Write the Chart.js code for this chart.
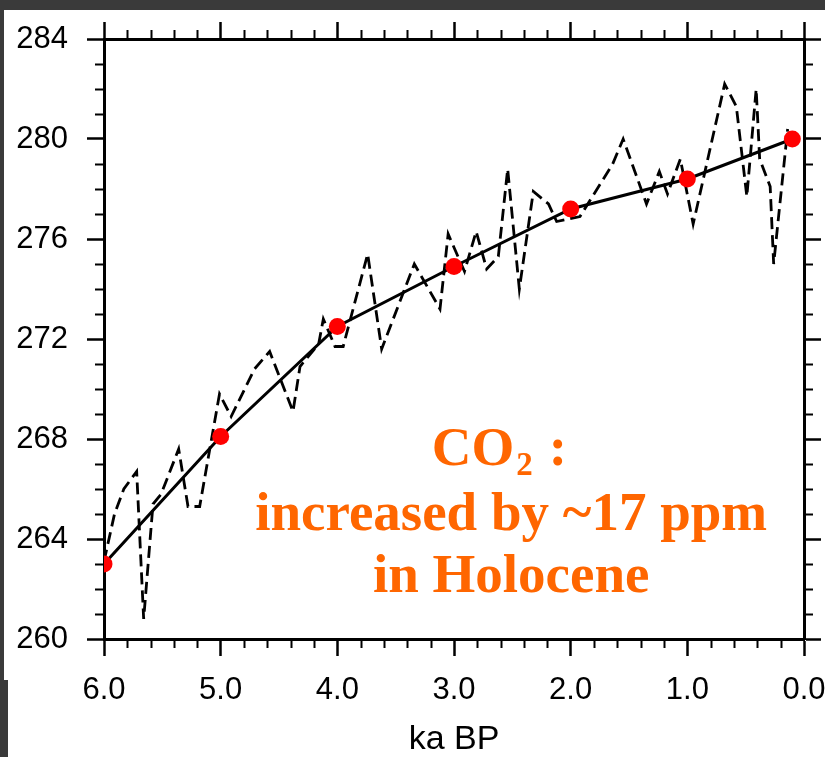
<!DOCTYPE html>
<html><head><meta charset="utf-8">
<style>html,body{margin:0;padding:0;background:#fff;overflow:hidden}canvas{display:block}</style>
<script src="https://cdn.jsdelivr.net/npm/chart.js@4.4.1/dist/chart.umd.min.js"></script>
</head><body>
<canvas id="c" width="825" height="757"></canvas>
<script>
// ---- data ----
const dashedAge = [6.00, 5.91, 5.83, 5.72, 5.66, 5.58, 5.51, 5.36, 5.28, 5.18, 5.01, 4.91, 4.71, 4.58, 4.38, 4.32, 4.16, 4.12, 4.02, 3.95, 3.74, 3.62, 3.34, 3.12, 3.05, 2.91, 2.81, 2.72, 2.62, 2.54, 2.44, 2.32, 2.19, 2.12, 1.92, 1.64, 1.55, 1.35, 1.24, 1.17, 1.06, 0.95, 0.68, 0.58, 0.49, 0.41, 0.38, 0.29, 0.26, 0.14];
const dashedCO2 = [263.1, 265.0, 266.0, 266.7, 260.8, 265.4, 265.8, 267.6, 265.3, 265.3, 269.8, 268.9, 270.8, 271.5, 269.1, 270.9, 271.8, 272.8, 271.7, 271.7, 275.4, 271.6, 275.0, 273.2, 276.2, 274.7, 276.3, 274.8, 275.3, 278.8, 274.0, 277.9, 277.4, 276.7, 276.9, 279.0, 280.0, 277.4, 278.7, 277.8, 279.2, 276.6, 282.2, 281.3, 277.7, 282.0, 279.2, 278.1, 275.0, 280.4];
const fitAge = [6.0, 5.0, 4.0, 3.0, 2.0, 1.0, 0.1];
const fitCO2 = [263.0, 268.1, 272.5, 274.9, 277.2, 278.4, 280.0];
const xMajorTicks = [6, 5, 4, 3, 2, 1, 0];
const xTickLabels = ['6.0', '5.0', '4.0', '3.0', '2.0', '1.0', '0.0'];
const yMajorTicks = [260, 264, 268, 272, 276, 280, 284];
const yTickLabels = ['260', '264', '268', '272', '276', '280', '284'];
const xTitle = 'ka BP';
const noteLines = ['CO', '2', ':', 'increased by ~17 ppm', 'in Holocene'];

// ---- styling / layout ----
const ORANGE = '#ff6600';
const LABEL_FONT = {family: '"Liberation Sans", Arial, sans-serif', size: 31};
const TICK_COLOR = '#000';

const dashed = dashedAge.map((a, i) => ({x: a, y: dashedCO2[i]}));
const fit = fitAge.map((a, i) => ({x: a, y: fitCO2[i]}));

function setTicks(vals) { return s => { s.ticks = vals.map(v => ({value: v})); }; }

const minorTicks = {
  id: 'minorTicks',
  beforeDraw(chart) {
    const ctx = chart.ctx;
    ctx.save();
    ctx.fillStyle = '#fff';
    ctx.fillRect(0, 0, chart.width, chart.height);
    ctx.fillStyle = '#3a3a3a';
    ctx.fillRect(0, 0, chart.width, 10);
    ctx.fillRect(0, 0, 4, 680);
    ctx.fillRect(0, 680, 8, chart.height - 680);
    ctx.restore();
  },
  afterDraw(chart) {
    const ctx = chart.ctx;
    const {x, x2, y, y2} = chart.scales;
    ctx.save();
    ctx.strokeStyle = TICK_COLOR;
    ctx.lineWidth = 2;
    const L = 9;
    for (let k = 0; k <= 30; k++) {
      if (k % 5 === 0) continue;
      const px = Math.round(x.getPixelForValue(k * 0.2)) + 0.5;
      ctx.beginPath();
      ctx.moveTo(px, x.top); ctx.lineTo(px, x.top + L);
      ctx.moveTo(px, x2.bottom); ctx.lineTo(px, x2.bottom - L);
      ctx.stroke();
    }
    for (let v = 260; v <= 284; v++) {
      if (v % 4 === 0) continue;
      const py = Math.round(y.getPixelForValue(v)) + 0.5;
      ctx.beginPath();
      ctx.moveTo(y.right, py); ctx.lineTo(y.right - L, py);
      ctx.moveTo(y2.left, py); ctx.lineTo(y2.left + L, py);
      ctx.stroke();
    }
    ctx.restore();
  },
  afterDatasetsDraw(chart) {
    const ctx = chart.ctx;
    const {x, y} = chart.scales;
    ctx.save();
    ctx.fillStyle = ORANGE;
    ctx.textBaseline = 'alphabetic';
    const big = 'bold 55px "Liberation Serif", "Times New Roman", serif';
    const small = 'bold 33px "Liberation Serif", "Times New Roman", serif';
    const cx1 = x.getPixelForValue(2.61);
    const b1 = y.getPixelForValue(266.96);
    ctx.font = big;
    const wCO = ctx.measureText(noteLines[0]).width;
    const wCol = ctx.measureText(noteLines[2]).width;
    ctx.font = small;
    const w2 = ctx.measureText(noteLines[1]).width;
    const gap = 16;
    const total = wCO + 2 + w2 + gap + wCol;
    const sx = cx1 - total / 2;
    ctx.textAlign = 'left';
    ctx.font = big;
    ctx.fillText(noteLines[0], sx, b1);
    ctx.font = small;
    ctx.fillText(noteLines[1], sx + wCO + 2, b1 + 10);
    ctx.font = big;
    ctx.fillText(noteLines[2], sx + wCO + 2 + w2 + gap, b1);
    ctx.textAlign = 'center';
    const cx = x.getPixelForValue(2.51);
    ctx.fillText(noteLines[3], cx, y.getPixelForValue(264.36));
    ctx.fillText(noteLines[4], cx, y.getPixelForValue(261.88));
    ctx.restore();
  }
};

const axisCommon = {
  border: {display: true, color: '#000', width: 3},
  grid: {display: true, drawOnChartArea: false, drawTicks: true, tickLength: 17, tickWidth: 2.5, tickColor: TICK_COLOR},
};
const noPadH = s => { s.paddingLeft = 0; s.paddingRight = 0; };
const noPadV = s => { s.paddingTop = 0; s.paddingBottom = 0; };

new Chart(document.getElementById('c'), {
  type: 'line',
  data: {
    datasets: [
      {
        label: 'fit', data: fit, borderColor: '#000', borderWidth: 3, tension: 0,
        pointRadius: 8.5, pointBackgroundColor: '#ff0000', pointBorderWidth: 0, pointBorderColor: '#ff0000'
      },
      {
        label: 'CO2', data: dashed, borderColor: '#000', borderWidth: 2.8, borderDash: [12, 6],
        tension: 0, pointRadius: 0
      }
    ]
  },
  options: {
    responsive: false, animation: false, devicePixelRatio: 1,
    layout: {padding: 0},
    plugins: {legend: {display: false}, tooltip: {enabled: false}},
    scales: {
      x: {
        type: 'linear', position: 'bottom', reverse: true, min: 0, max: 6,
        afterBuildTicks: setTicks(xMajorTicks),
        afterFit: s => { s.height = 118; noPadH(s); },
        ticks: {
          color: '#000', font: LABEL_FONT, padding: 16, maxRotation: 0, autoSkip: false,
          callback: (v) => xTickLabels[xMajorTicks.indexOf(v)]
        },
        title: {display: true, text: xTitle, color: '#000', font: {family: LABEL_FONT.family, size: 34, lineHeight: 1}, padding: {top: 0, bottom: 0}},
        ...axisCommon
      },
      x2: {
        type: 'linear', axis: 'x', position: 'top', reverse: true, min: 0, max: 6,
        afterBuildTicks: setTicks(xMajorTicks),
        afterFit: s => { s.height = 39; noPadH(s); },
        ticks: {display: false},
        ...axisCommon
      },
      y: {
        type: 'linear', position: 'left', min: 260, max: 284,
        afterBuildTicks: setTicks(yMajorTicks),
        afterFit: s => { s.width = 104; noPadV(s); },
        ticks: {
          color: '#000', font: LABEL_FONT, padding: 19,
          callback: (v) => yTickLabels[yMajorTicks.indexOf(v)]
        },
        ...axisCommon
      },
      y2: {
        type: 'linear', axis: 'y', position: 'right', min: 260, max: 284,
        afterBuildTicks: setTicks(yMajorTicks),
        afterFit: s => { s.width = 21; noPadV(s); },
        ticks: {display: false},
        ...axisCommon
      }
    }
  },
  plugins: [minorTicks]
});
</script>
</body></html>
